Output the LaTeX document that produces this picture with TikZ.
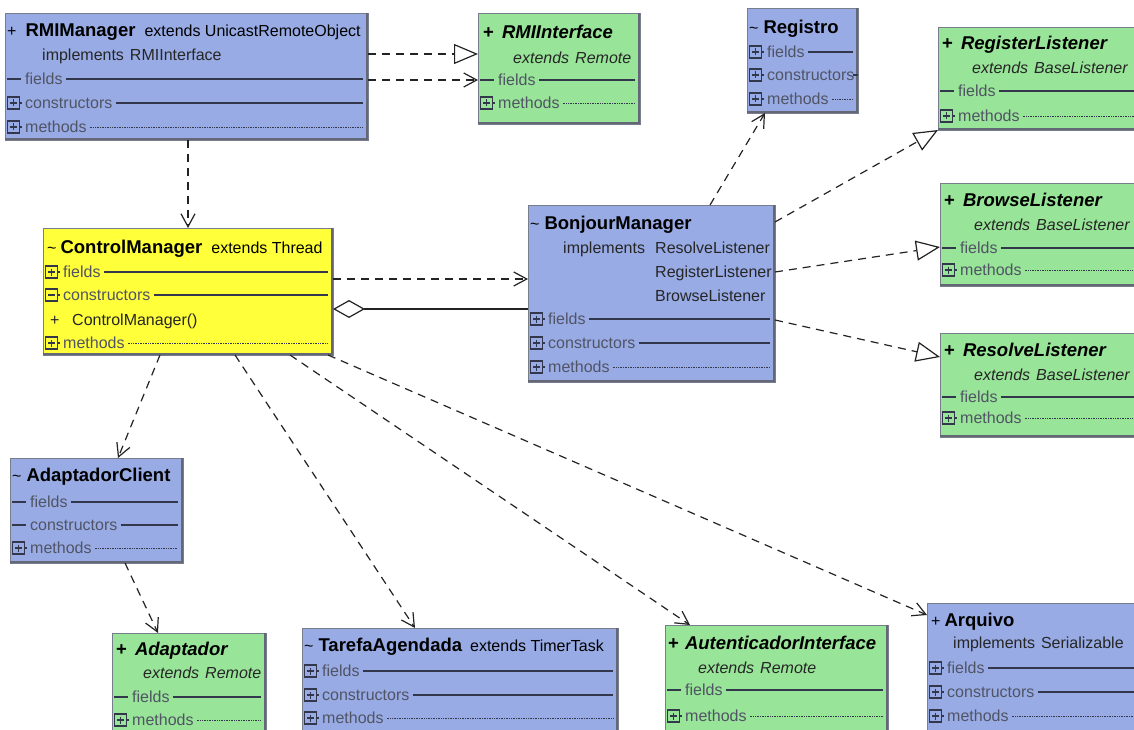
\documentclass[tikz,border=0pt]{standalone}
\usepackage{fontspec}
\setmainfont{Liberation Sans}
\usetikzlibrary{arrows.meta,fit}
\definecolor{umlblue}{RGB}{152,171,229}
\definecolor{umlgreen}{RGB}{152,228,152}
\definecolor{umlyellow}{RGB}{255,255,58}
\definecolor{secgray}{RGB}{80,84,100}
\definecolor{linegray}{RGB}{50,55,75}
\definecolor{edgegray}{RGB}{120,125,140}
\definecolor{shadowgray}{RGB}{100,104,118}
\definecolor{conn}{RGB}{35,35,35}
\newcommand\fr{\fontsize{16}{18}\selectfont}
\newcommand\fb{\fontsize{18.5}{20}\selectfont\bfseries}
\newcommand\fbi{\fontsize{18.5}{20}\selectfont\bfseries\itshape}
\newcounter{tn}
\tikzset{
  umlbox/.style={draw=edgegray, line width=0.6pt, inner sep=0pt, outer sep=0pt},
  shadowline/.style={draw=shadowgray, line width=2pt},
  ttl/.style={anchor=base west, inner sep=0pt, font=\fr, text=black},
  sub/.style={anchor=base west, inner sep=0pt, font=\fr, text=black!85},
  seclbl/.style={anchor=base west, inner sep=0pt, font=\fr, text=secgray},
  icon/.style={draw=linegray, line width=1.2pt},
  secsolid/.style={draw=linegray, line width=1.2pt},
  secdot/.style={draw=linegray, line width=0.7pt, dash pattern=on 0.6pt off 1.1pt},
  conline/.style={draw=conn, line width=1.2pt, dash pattern=on 8pt off 6pt},
  dep/.style={conline, -{Straight Barb[length=13pt,width=14pt,line width=1.2pt]}},
  realz/.style={conline, -{Triangle[length=24pt,width=20pt,fill=white,line width=1.2pt]}},
  aggr/.style={draw=conn, line width=1.2pt, {Diamond[length=32pt,width=18pt,fill=white,line width=1.2pt]}-},
}
% box: name, x1, y1, x2, y2, colour
\newcommand\ubox[6]{%
  \node[umlbox, fill=#6, fit={(#2,#3) (#4,#5)}] (#1) {};
  \draw[shadowline] ([xshift=-1pt]#1.north east) -- ([shift={(-1pt,1pt)}]#1.south east) -- ([yshift=1pt]#1.south west);
}
\newcommand\icplus[2]{%
  \draw[icon] (#1+2.5,#2-6) rectangle (#1+14.5,#2+6);
  \draw[icon, line width=1.5pt] (#1+5,#2) -- (#1+12,#2) (#1+8.5,#2-3.5) -- (#1+8.5,#2+3.5);
  \draw[icon] (#1+14.5,#2) -- (#1+17,#2);}
\newcommand\icminus[2]{%
  \draw[icon] (#1+2.5,#2-6) rectangle (#1+14.5,#2+6);
  \draw[icon, line width=1.5pt] (#1+5,#2) -- (#1+12,#2);
  \draw[icon] (#1+14.5,#2) -- (#1+17,#2);}
\newcommand\icdash[2]{%
  \draw[icon] (#1+2,#2) -- (#1+16,#2);}
% row: x1, x2, y, icon, label, line style
\newcommand\secrow[6]{%
  #4{#1}{#3}
  \stepcounter{tn}
  \node[seclbl] (s\thetn) at (#1+20,#3+5.5) {#5};
  \draw[#6] (s\thetn.east |- 0,#3) ++(3,0) -- (#2-5,#3);
}
\begin{document}
\begin{tikzpicture}[x=1pt,y=-1pt]
\useasboundingbox (0,0) rectangle (1134,730);
\clip (0,0) rectangle (1134,730);
\fill[white] (0,0) rectangle (1134,730);

% ---------- RMIManager
\ubox{rmim}{5}{13}{368}{140}{umlblue}
\node[ttl] (rmim-t) at (7,36.5) {+\hspace{9pt}{\fb RMIManager}\hspace{9pt}extends UnicastRemoteObject};
\node[sub] (rmim-i) at (42,60.5) {implements\hspace{6pt}RMIInterface};
\secrow{5}{368}{79}{\icdash}{fields}{secsolid}
\secrow{5}{368}{103}{\icplus}{constructors}{secsolid}
\secrow{5}{368}{127}{\icplus}{methods}{secdot}

% ---------- RMIInterface
\ubox{rmii}{478}{13}{640}{124}{umlgreen}
\node[ttl] (rmii-t) at (483,38.5) {{\fb +}\hspace{8pt}{\fbi RMIInterface}};
\node[sub] (rmii-e) at (513,63.5) {\itshape extends\hspace{6pt}Remote};
\secrow{478}{640}{80}{\icdash}{fields}{secsolid}
\secrow{478}{640}{103}{\icplus}{methods}{secdot}

% ---------- Registro
\ubox{reg}{747}{8}{858}{113}{umlblue}
\node[ttl] (reg-t) at (749,33.5) {\textasciitilde\hspace{5pt}{\fb Registro}};
\secrow{747}{858}{52}{\icplus}{fields}{secsolid}
\secrow{747}{858}{75}{\icplus}{constructors}{secsolid}
\secrow{747}{858}{99}{\icplus}{methods}{secdot}

% ---------- RegisterListener
\ubox{regl}{938}{27}{1150}{130}{umlgreen}
\node[ttl] (regl-t) at (942,49.5) {{\fb +}\hspace{8pt}{\fbi RegisterListener}};
\node[sub] (regl-e) at (972,73.5) {\itshape extends\hspace{6pt}BaseListener};
\secrow{938}{1150}{91}{\icdash}{fields}{secsolid}
\secrow{938}{1150}{116}{\icplus}{methods}{secdot}

% ---------- ControlManager
\ubox{ctrl}{43}{228}{333}{355}{umlyellow}
\node[ttl] (ctrl-t) at (47,253.5) {\textasciitilde\hspace{4pt}{\fb ControlManager}\hspace{9pt}extends Thread};
\secrow{43}{333}{272}{\icplus}{fields}{secsolid}
\secrow{43}{333}{295}{\icminus}{constructors}{secsolid}
\node[sub] (ctrl-p) at (50,325.5) {+};
\node[sub] (ctrl-c) at (72,325.5) {ControlManager()};
\secrow{43}{333}{343}{\icplus}{methods}{secdot}

% ---------- BonjourManager
\ubox{bonj}{528}{205}{775}{382}{umlblue}
\node[ttl] (bonj-t) at (530,229.5) {\textasciitilde\hspace{5pt}{\fb BonjourManager}};
\node[sub] (bonj-i) at (563,253.5) {implements};
\node[sub] (bonj-r1) at (655,253.5) {ResolveListener};
\node[sub] (bonj-r2) at (655,277.5) {RegisterListener};
\node[sub] (bonj-r3) at (655,301.5) {BrowseListener};
\secrow{528}{775}{319}{\icplus}{fields}{secsolid}
\secrow{528}{775}{343}{\icplus}{constructors}{secsolid}
\secrow{528}{775}{367}{\icplus}{methods}{secdot}

% ---------- BrowseListener
\ubox{brwl}{940}{183}{1150}{286}{umlgreen}
\node[ttl] (brwl-t) at (944,206.5) {{\fb +}\hspace{8pt}{\fbi BrowseListener}};
\node[sub] (brwl-e) at (974,230.5) {\itshape extends\hspace{6pt}BaseListener};
\secrow{940}{1150}{248}{\icdash}{fields}{secsolid}
\secrow{940}{1150}{270}{\icplus}{methods}{secdot}

% ---------- ResolveListener
\ubox{resl}{940}{333}{1150}{437}{umlgreen}
\node[ttl] (resl-t) at (944,356.5) {{\fb +}\hspace{8pt}{\fbi ResolveListener}};
\node[sub] (resl-e) at (974,380.5) {\itshape extends\hspace{6pt}BaseListener};
\secrow{940}{1150}{397}{\icdash}{fields}{secsolid}
\secrow{940}{1150}{418}{\icplus}{methods}{secdot}

% ---------- AdaptadorClient
\ubox{adc}{10}{458}{183}{563}{umlblue}
\node[ttl] (adc-t) at (12,481.5) {\textasciitilde\hspace{5pt}{\fb AdaptadorClient}};
\secrow{10}{183}{502}{\icdash}{fields}{secsolid}
\secrow{10}{183}{525}{\icdash}{constructors}{secsolid}
\secrow{10}{183}{548}{\icplus}{methods}{secdot}

% ---------- Adaptador
\ubox{adp}{112}{633}{266}{745}{umlgreen}
\node[ttl] (adp-t) at (116,655.5) {{\fb +}\hspace{8pt}{\fbi Adaptador}};
\node[sub] (adp-e) at (143,678.5) {\itshape extends\hspace{6pt}Remote};
\secrow{112}{266}{697}{\icdash}{fields}{secsolid}
\secrow{112}{266}{720}{\icplus}{methods}{secdot}

% ---------- TarefaAgendada
\ubox{taf}{302}{628}{618}{745}{umlblue}
\node[ttl] (taf-t) at (304,651.5) {\textasciitilde\hspace{5pt}{\fb TarefaAgendada}\hspace{8pt}extends TimerTask};
\secrow{302}{618}{671}{\icplus}{fields}{secsolid}
\secrow{302}{618}{695}{\icplus}{constructors}{secsolid}
\secrow{302}{618}{718}{\icplus}{methods}{secdot}

% ---------- AutenticadorInterface
\ubox{aut}{665}{625}{888}{745}{umlgreen}
\node[ttl] (aut-t) at (668,649.5) {{\fb +}\hspace{6pt}{\fbi AutenticadorInterface}};
\node[sub] (aut-e) at (698,673.5) {\itshape extends\hspace{6pt}Remote};
\secrow{665}{888}{690}{\icdash}{fields}{secsolid}
\secrow{665}{888}{716}{\icplus}{methods}{secdot}

% ---------- Arquivo
\ubox{arq}{927}{603}{1150}{745}{umlblue}
\node[ttl] (arq-t) at (931,626.5) {+\hspace{4pt}{\fb Arquivo}};
\node[sub] (arq-i) at (953,648.5) {implements\hspace{6pt}Serializable};
\secrow{927}{1150}{668}{\icplus}{fields}{secsolid}
\secrow{927}{1150}{692}{\icplus}{constructors}{secsolid}
\secrow{927}{1150}{716}{\icplus}{methods}{secdot}

% ---------- connectors
\draw[realz] (rmim.east |- 0,54) -- (rmii.west |- 0,54);
\draw[dep] (rmim.east |- 0,80) -- (rmii.west |- 0,80);
\draw[dep] (rmim.south -| 188,0) -- (ctrl.north -| 188,0);
\draw[dep] (ctrl.east |- 0,279) -- (bonj.west |- 0,279);
\draw[aggr] (ctrl.east |- 0,309) -- (bonj.west |- 0,309);
\draw[dep] (bonj.north -| 710,0) -- (reg.south -| 765,0);
\draw[realz] (bonj.east |- 0,222) -- (regl.south west);
\draw[realz] (bonj.east |- 0,272) -- (brwl.west |- 0,247);
\draw[realz] (bonj.east |- 0,320) -- (resl.west |- 0,357);
\draw[dep] (ctrl.south -| 160,0) -- (adc.north -| 118,0);
\draw[dep] (ctrl.south -| 235,0) -- (taf.north -| 415,0);
\draw[dep] (ctrl.south -| 290,0) -- (aut.north -| 690,0);
\draw[dep] (ctrl.south -| 328,0) -- (arq.west |- 0,615);
\draw[dep] (adc.south -| 125,0) -- (adp.north -| 158,0);
\end{tikzpicture}
\end{document}
